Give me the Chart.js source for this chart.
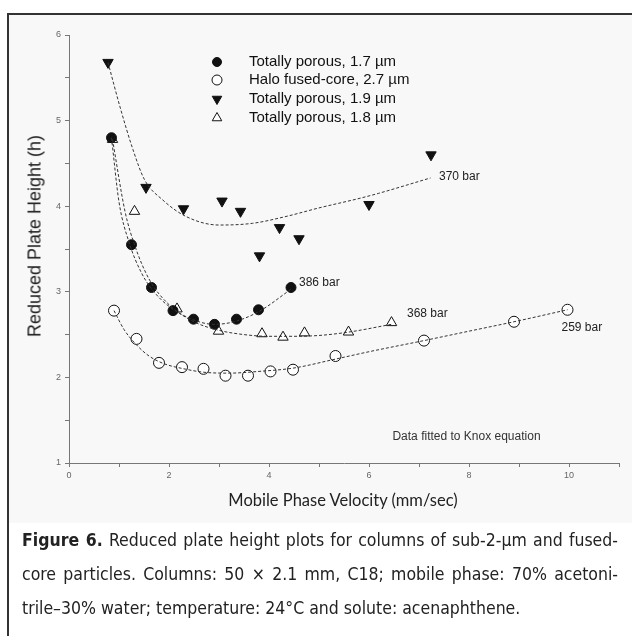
<!DOCTYPE html>
<html>
<head>
<meta charset="utf-8">
<script src="https://cdn.jsdelivr.net/npm/chart.js@4.4.0/dist/chart.umd.min.js"></script>
<style>
html,body{margin:0;padding:0;background:#fff;}
body{width:632px;height:636px;position:relative;overflow:hidden;font-family:"Liberation Sans",Arial,sans-serif;}
#frame{position:absolute;left:7px;top:13px;width:700px;height:700px;border-left:2px solid #333;border-top:2px solid #333;}
#plotbg{position:absolute;left:9px;top:15px;width:623px;height:508px;background:#f8f8f8;}
#chart{position:absolute;left:0;top:0;}
#ytitle{position:absolute;left:35px;top:236px;transform:translate(-50%,-50%) rotate(-90deg);white-space:nowrap;font-size:18px;color:#222;}
#xtitle{position:absolute;left:343px;top:500px;transform:translate(-50%,-50%);white-space:nowrap;font-family:Lato,"Open Sans",sans-serif;font-size:16.5px;color:#222;}
#caption{position:absolute;left:22px;top:523px;width:596px;font-family:"Liberation Sans Narrow","DejaVu Sans Condensed",sans-serif;font-size:17.5px;line-height:34px;color:#222;}
#caption .j{text-align:justify;text-align-last:justify;white-space:nowrap;}
</style>
</head>
<body>
<div id="plotbg"></div>
<div id="frame"></div>
<canvas id="chart" width="632" height="636"></canvas>
<div id="ytitle">Reduced Plate Height (h)</div>
<div id="xtitle">Mobile Phase Velocity (mm/sec)</div>
<div id="caption">
  <div class="j"><b>Figure 6.</b> Reduced plate height plots for columns of sub-2-µm and fused-</div>
  <div class="j">core particles. Columns: 50 × 2.1 mm, C18; mobile phase: 70% acetoni-</div>
  <div>trile–30% water; temperature: 24°C and solute: acenaphthene.</div>
</div>
<script>
// measured points
var velPorous17 = [0.85, 1.25, 1.65, 2.08, 2.49, 2.91, 3.35, 3.79, 4.44];
var hPorous17   = [4.80, 3.55, 3.05, 2.78, 2.68, 2.62, 2.68, 2.79, 3.05];
var velHalo     = [0.90, 1.35, 1.80, 2.26, 2.69, 3.13, 3.58, 4.03, 4.48, 5.33, 7.10, 8.90, 9.97];
var hHalo       = [2.78, 2.45, 2.17, 2.12, 2.10, 2.02, 2.02, 2.07, 2.09, 2.25, 2.43, 2.65, 2.79];
var velPorous19 = [0.78, 1.54, 2.29, 3.06, 3.43, 3.81, 4.21, 4.60, 6.00, 7.24];
var hPorous19   = [5.68, 4.22, 3.97, 4.06, 3.94, 3.42, 3.75, 3.62, 4.02, 4.60];
var velPorous18 = [0.87, 1.31, 2.16, 2.99, 3.86, 4.28, 4.71, 5.59, 6.45];
var hPorous18   = [4.78, 3.94, 2.80, 2.54, 2.51, 2.47, 2.52, 2.53, 2.64];

// Knox fit curves
var fitVel370 = [0.78, 1.02, 1.28, 1.51, 1.88, 2.34, 3.0, 3.67, 4.34, 5.0, 5.8, 6.19, 7.23];
var fitH370   = [5.68, 5.16, 4.66, 4.31, 4.07, 3.88, 3.78, 3.80, 3.88, 3.98, 4.09, 4.15, 4.33];
var fitVel386 = [0.85, 1.0, 1.2, 1.45, 1.7, 2.0, 2.5, 2.9, 3.3, 3.8, 4.44];
var fitH386   = [4.80, 4.05, 3.58, 3.22, 3.00, 2.83, 2.67, 2.62, 2.65, 2.77, 3.03];
var fitVel368 = [0.87, 1.12, 1.31, 1.6, 2.0, 2.5, 3.0, 3.5, 4.0, 4.5, 5.0, 5.6, 6.45];
var fitH368   = [4.78, 3.94, 3.55, 3.15, 2.85, 2.65, 2.55, 2.50, 2.48, 2.48, 2.49, 2.53, 2.62];
var fitVel259 = [0.9, 1.1, 1.35, 1.6, 1.9, 2.3, 2.7, 3.2, 3.8, 4.5, 5.3, 6.0, 7.1, 8.0, 8.9, 9.97];
var fitH259   = [2.78, 2.56, 2.38, 2.25, 2.16, 2.10, 2.06, 2.05, 2.07, 2.11, 2.21, 2.30, 2.43, 2.54, 2.65, 2.79];

var seriesNames = ["Totally porous, 1.7 µm", "Halo fused-core, 2.7 µm", "Totally porous, 1.9 µm", "Totally porous, 1.8 µm"];
var pressureText = ["370 bar", "386 bar", "368 bar", "259 bar"];
var pressureVel  = [7.40, 4.60, 6.76, 9.85];
var pressureH    = [4.35, 3.11, 2.75, 2.58];
var noteText = "Data fitted to Knox equation";

function pts(xs, ys) {
  return xs.map(function(v, i) { return {x: v, y: ys[i]}; });
}

var markers = [
  {style: 'circle',   rot: 0,   r: 5,   fill: '#111', data: pts(velPorous17, hPorous17)},
  {style: 'circle',   rot: 0,   r: 5.5, fill: '#fff', data: pts(velHalo, hHalo)},
  {style: 'triangle', rot: 180, r: 6,   fill: '#111', data: pts(velPorous19, hPorous19)},
  {style: 'triangle', rot: 0,   r: 6,   fill: '#fff', data: pts(velPorous18, hPorous18)}
];

function fitLine(xs, ys) {
  return {
    data: pts(xs, ys), showLine: true, pointRadius: 0, borderColor: '#333', borderWidth: 1,
    borderDash: [3, 2], cubicInterpolationMode: 'monotone', fill: false
  };
}

var datasets = [
  fitLine(fitVel370, fitH370), fitLine(fitVel386, fitH386),
  fitLine(fitVel368, fitH368), fitLine(fitVel259, fitH259)
];
markers.forEach(function(m, i) {
  datasets.push({
    label: seriesNames[i], data: m.data, showLine: false,
    pointStyle: m.style, rotation: m.rot, pointRadius: m.r,
    pointBackgroundColor: m.fill, pointBorderColor: '#111', pointBorderWidth: 1
  });
});

var notesPlugin = {
  id: 'notes',
  afterDatasetsDraw: function(chart) {
    var ctx = chart.ctx, x = chart.scales.x, y = chart.scales.y;
    ctx.save();
    ctx.fillStyle = '#222';
    ctx.textBaseline = 'middle';
    ctx.font = '12px "Liberation Sans", Arial, sans-serif';
    pressureText.forEach(function(t, i) {
      ctx.fillText(t, x.getPixelForValue(pressureVel[i]), y.getPixelForValue(pressureH[i]));
    });
    ctx.font = '12px "Liberation Sans", Arial, sans-serif';
    ctx.fillStyle = '#333';
    ctx.textAlign = 'center';
    ctx.fillText(noteText, x.getPixelForValue(7.95), y.getPixelForValue(1.31));

    // legend block
    ctx.textAlign = 'left';
    ctx.font = '15px "Liberation Sans", Arial, sans-serif';
    var lx = 217, tx = 249, rows = [62, 80, 99, 118];
    markers.forEach(function(m, i) {
      ctx.fillStyle = m.fill;
      ctx.strokeStyle = '#111';
      ctx.lineWidth = 1;
      Chart.helpers.drawPoint(ctx, {pointStyle: m.style, rotation: m.rot, radius: m.r - 0.5, borderWidth: 1}, lx, rows[i]);
      ctx.fillStyle = '#111';
      ctx.fillText(seriesNames[i], tx, rows[i]);
    });
    ctx.restore();
  }
};

new Chart(document.getElementById('chart'), {
  type: 'scatter',
  data: {datasets: datasets},
  plugins: [notesPlugin],
  options: {
    responsive: false,
    animation: false,
    layout: {padding: {top: 35, right: 13, left: 0, bottom: 0}},
    plugins: {legend: {display: false}, tooltip: {enabled: false}},
    scales: {
      x: {
        type: 'linear', min: 0, max: 11,
        afterFit: function(s) { s.height = 173; },
        ticks: {stepSize: 1, autoSkip: false, maxRotation: 0, padding: 3, color: '#666',
          font: {size: 9, family: '"Liberation Sans", Arial'},
          callback: function(v) { return (v % 2 === 0 && v <= 10) ? v : ''; }},
        grid: {drawOnChartArea: false, drawTicks: true, tickLength: 4, color: '#777'},
        border: {color: '#777'}
      },
      y: {
        min: 1, max: 6,
        afterFit: function(s) { s.width = 69; },
        ticks: {stepSize: 0.5, autoSkip: false, padding: 4, color: '#666',
          font: {size: 9, family: '"Liberation Sans", Arial'},
          callback: function(v) { return Number.isInteger(v) ? v : ''; }},
        grid: {drawOnChartArea: false, drawTicks: true, tickLength: 4, color: '#777'},
        border: {color: '#777'}
      }
    }
  }
});
</script>
</body>
</html>
